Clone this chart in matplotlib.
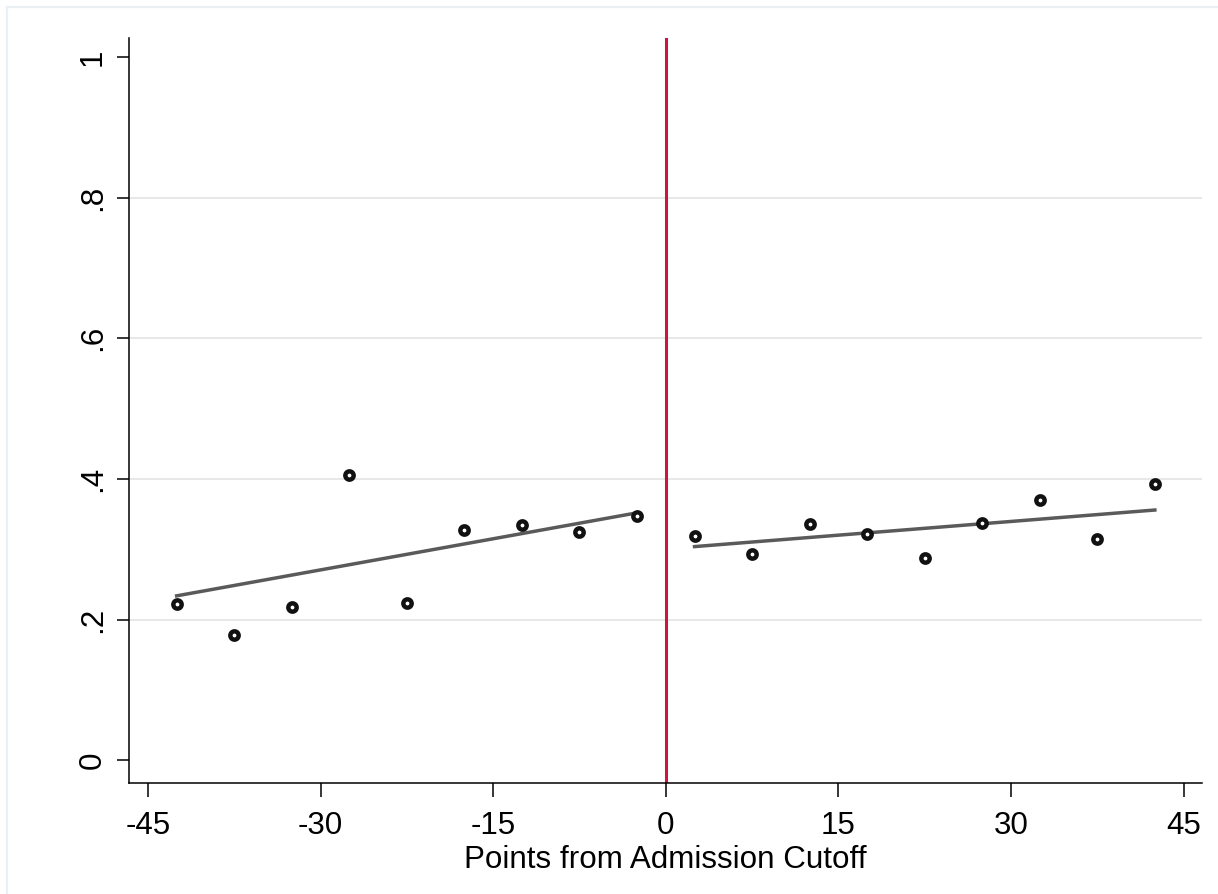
import numpy as np
import matplotlib.pyplot as plt
from matplotlib.lines import Line2D

# bin midpoints (points from cutoff)
x_left = [-42.5, -37.5, -32.5, -27.5, -22.5, -17.5, -12.5, -7.5, -2.5]
x_right = [2.5, 7.5, 12.5, 17.5, 22.5, 27.5, 32.5, 37.5, 42.5]
# bin means
y_left = [0.223, 0.179, 0.218, 0.406, 0.224, 0.327, 0.335, 0.325, 0.347]
y_right = [0.319, 0.293, 0.336, 0.322, 0.288, 0.337, 0.370, 0.315, 0.393]
# linear fit endpoints on each side
fit_left_x = [-42.5, -2.5]
fit_left_y = [0.234, 0.352]
fit_right_x = [2.5, 42.5]
fit_right_y = [0.304, 0.356]

x_ticks = [-45, -30, -15, 0, 15, 30, 45]
y_ticks = [0, 0.2, 0.4, 0.6, 0.8, 1]
y_ticklabels = ['0', '.2', '.4', '.6', '.8', '1']

plt.rcParams['font.family'] = ['Liberation Sans', 'DejaVu Sans']

fig = plt.figure(figsize=(12.18, 8.94), dpi=100)
ax = fig.add_axes([0.1063, 0.1242, 0.8806, 0.8333])

# light frame along top and left of the figure
frame_col = '#eaf0f4'
fig.add_artist(Line2D([7 / 1218, 1], [1 - 7 / 894, 1 - 7 / 894], transform=fig.transFigure,
                      color=frame_col, lw=1.6))
fig.add_artist(Line2D([7 / 1218, 7 / 1218], [0, 1 - 7 / 894], transform=fig.transFigure,
                      color=frame_col, lw=1.6))

# grid lines on inner ticks only
for yv in y_ticks[1:-1]:
    ax.axhline(yv, color='#e2e2e2', lw=1.1, zorder=0)

ax.axvline(0, color='#cc1540', lw=2.2, zorder=1)

ax.plot(fit_left_x, fit_left_y, color='#5a5a5a', lw=2.5, zorder=2)
ax.plot(fit_right_x, fit_right_y, color='#5a5a5a', lw=2.5, zorder=2)

mk = dict(marker='o', ls='none', ms=6.0, mew=3.2, mec='#111111', mfc='white', zorder=3)
ax.plot(x_left, y_left, **mk)
ax.plot(x_right, y_right, **mk)

ax.set_xlim(-46.6, 46.6)
ax.set_ylim(-0.032, 1.027)

for s in ['top', 'right']:
    ax.spines[s].set_visible(False)
for s in ['left', 'bottom']:
    ax.spines[s].set_linewidth(1.1)

ax.set_xticks(x_ticks)
ax.set_xticklabels([str(t) for t in x_ticks])
ax.set_yticks(y_ticks)
ax.set_yticklabels(y_ticklabels, rotation=90, va='center')

ax.tick_params(axis='x', length=10, width=1.1, pad=10, labelsize=22.6)
ax.tick_params(axis='y', length=8.6, width=1.1, pad=7, labelsize=22.6)

ax.set_xlabel('Points from Admission Cutoff', fontsize=22.6, labelpad=3)

fig.savefig('out.png', dpi=100)
